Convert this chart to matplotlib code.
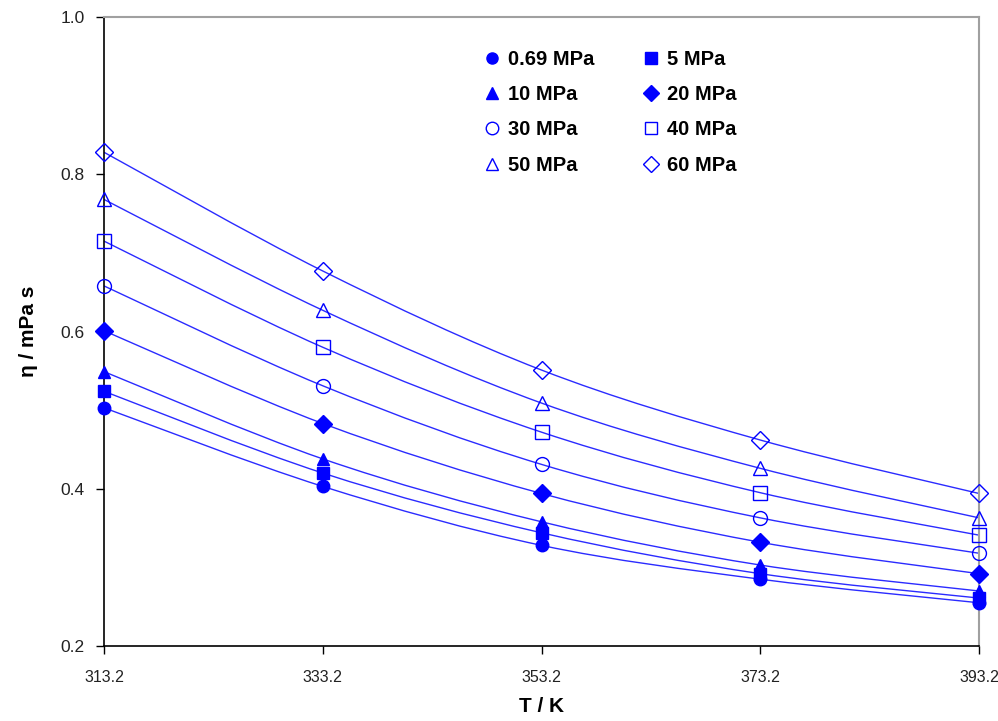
import matplotlib
matplotlib.use('Agg')
import matplotlib.pyplot as plt
from matplotlib.path import Path
from matplotlib.patches import PathPatch
from matplotlib.lines import Line2D

plt.rcParams['font.family'] = ['Liberation Sans', 'DejaVu Sans']

temps = [313.2, 333.2, 353.2, 373.2, 393.2]
pressures = ['0.69 MPa', '5 MPa', '10 MPa', '20 MPa', '30 MPa', '40 MPa', '50 MPa', '60 MPa']
visc_069 = [0.503, 0.403, 0.328, 0.285, 0.255]
visc_5 = [0.524, 0.420, 0.344, 0.292, 0.261]
visc_10 = [0.549, 0.438, 0.358, 0.303, 0.270]
visc_20 = [0.601, 0.483, 0.394, 0.332, 0.292]
visc_30 = [0.658, 0.531, 0.431, 0.363, 0.318]
visc_40 = [0.715, 0.580, 0.472, 0.395, 0.341]
visc_50 = [0.768, 0.627, 0.509, 0.426, 0.363]
visc_60 = [0.828, 0.677, 0.551, 0.462, 0.394]
series = [visc_069, visc_5, visc_10, visc_20, visc_30, visc_40, visc_50, visc_60]

markers = ['o', 's', '^', 'D', 'o', 's', '^', 'D']
filled = [True, True, True, True, False, False, False, False]
sizes = [9, 9, 9, 9, 10, 10, 10, 9]
blue = '#0000FF'
line_blue = '#2B2BFF'


def smooth_path(x, y):
    # Catmull-Rom spline turned into cubic bezier segments (Excel-like smoothed line)
    verts = [(x[0], y[0])]
    codes = [Path.MOVETO]
    n = len(x)
    for i in range(n - 1):
        x0, y0 = (x[i - 1], y[i - 1]) if i > 0 else (x[i], y[i])
        x1, y1 = x[i], y[i]
        x2, y2 = x[i + 1], y[i + 1]
        x3, y3 = (x[i + 2], y[i + 2]) if i + 2 < n else (x2, y2)
        c1 = (x1 + (x2 - x0) / 6, y1 + (y2 - y0) / 6)
        c2 = (x2 - (x3 - x1) / 6, y2 - (y3 - y1) / 6)
        verts += [c1, c2, (x2, y2)]
        codes += [Path.CURVE4] * 3
    return Path(verts, codes)


fig = plt.figure(figsize=(9.98, 7.21), dpi=100)
ax = fig.add_axes([0.1042, 0.104, 0.8768, 0.8724])

handles = []
for vals, m, f, s, lab in zip(series, markers, filled, sizes, pressures):
    ax.add_patch(PathPatch(smooth_path(temps, vals), facecolor='none',
                           edgecolor=line_blue, linewidth=1.0, zorder=2))
    fc = blue if f else 'none'
    ax.plot(temps, vals, linestyle='none', marker=m, markersize=s,
            markerfacecolor=fc, markeredgecolor=blue, markeredgewidth=1.0,
            zorder=3, clip_on=False)
    handles.append(Line2D([], [], linestyle='none', marker=m, markersize=s - 1,
                          markerfacecolor=fc, markeredgecolor=blue,
                          markeredgewidth=1.0, label=lab))

ax.set_xlim(313.2, 393.2)
ax.set_ylim(0.2, 1.0)
ax.set_xticks(temps)
ax.set_xticklabels(['313.2', '333.2', '353.2', '373.2', '393.2'])
ax.set_yticks([0.2, 0.4, 0.6, 0.8, 1.0])
ax.set_yticklabels(['0.2', '0.4', '0.6', '0.8', '1.0'])
ax.tick_params(direction='out', length=6, width=1, labelsize=12.5,
               labelcolor='#222222', pad=8)
ax.tick_params(axis='x', pad=11, labelsize=11.5)

for side in ['left', 'bottom']:
    ax.spines[side].set_color('black')
    ax.spines[side].set_linewidth(1.2)
for side in ['top', 'right']:
    ax.spines[side].set_color('#A0A0A0')
    ax.spines[side].set_linewidth(1.5)

ax.set_xlabel('T / K', fontsize=15, fontweight='bold', labelpad=9)
ax.set_ylabel('η / mPa s', fontsize=15, fontweight='bold', labelpad=16)

order = [0, 2, 4, 6, 1, 3, 5, 7]
leg = ax.legend([handles[i] for i in order], [pressures[i] for i in order],
                ncol=2, frameon=False, loc='upper left',
                bbox_to_anchor=(0.411, 0.976), prop={'size': 14.5, 'weight': 'bold'},
                labelspacing=0.80, handletextpad=0.3, columnspacing=2.3,
                handlelength=1.0)

fig.savefig('out.png', dpi=100)
